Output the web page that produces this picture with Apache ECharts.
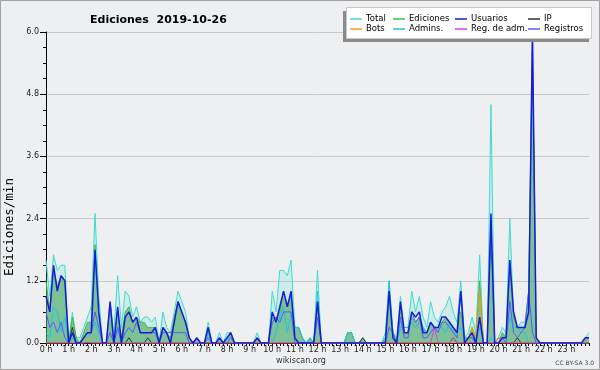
<!DOCTYPE html>
<html>
<head>
<meta charset="utf-8">
<script src="https://cdn.jsdelivr.net/npm/echarts@6/dist/echarts.min.js"></script>
<style>
  html, body { margin: 0; padding: 0; background: #eeeff1; }
  #chart { width: 600px; height: 370px; }
</style>
</head>
<body>
<div id="chart"></div>
<script>
// etiquetas de hora (cada 6 intervalos de 10 min)
var hourLabels = ['0 h','1 h','2 h','3 h','4 h','5 h','6 h','7 h','8 h','9 h','10 h','11 h',
  '12 h','13 h','14 h','15 h','16 h','17 h','18 h','19 h','20 h','21 h','22 h','23 h'];

// ediciones/min por tramo de 10 minutos, una fila por hora
var total = [
  1.6,0.9,1.7,1.4,1.5,1.5,
  0.0,0.6,0.1,0.1,0.3,0.5,
  0.7,2.5,0.9,0.0,0.0,0.8,
  0.2,1.3,0.3,1.0,0.9,0.5,
  0.7,0.4,0.5,0.5,0.4,0.5,
  0.0,0.6,0.3,0.2,0.6,1.0,
  0.8,0.6,0.1,0.0,0.1,0.0,
  0.0,0.4,0.0,0.0,0.2,0.0,
  0.2,0.2,0.0,0.0,0.0,0.0,
  0.0,0.0,0.2,0.0,0.0,0.0,
  1.0,0.6,1.4,1.4,1.3,1.6,
  0.3,0.3,0.1,0.0,0.1,0.0,
  1.4,0.0,0.0,0.0,0.0,0.0,
  0.0,0.0,0.2,0.2,0.0,0.0,
  0.1,0.0,0.0,0.0,0.0,0.0,
  0.2,1.2,0.2,0.1,0.9,0.3,
  0.3,1.0,0.6,0.9,0.5,0.3,
  0.8,0.5,0.4,0.6,0.7,0.9,
  0.6,0.4,1.2,0.1,0.2,0.5,
  0.2,1.7,0.0,0.0,4.6,0.0,
  0.1,0.3,0.2,2.4,0.5,0.3,
  0.4,0.4,1.0,6.0,0.1,0.0,
  0.0,0.0,0.0,0.0,0.0,0.0,
  0.0,0.0,0.0,0.0,0.0,0.1,
  0.2
];
var ediciones = [
  1.2,0.6,1.4,1.1,1.3,1.2,
  0.0,0.5,0.1,0.0,0.2,0.4,
  0.4,1.9,0.5,0.0,0.0,0.7,
  0.0,0.6,0.1,0.6,0.7,0.4,
  0.5,0.4,0.4,0.3,0.3,0.3,
  0.0,0.3,0.2,0.1,0.5,0.8,
  0.6,0.4,0.1,0.0,0.1,0.0,
  0.0,0.3,0.0,0.0,0.1,0.0,
  0.1,0.2,0.0,0.0,0.0,0.0,
  0.0,0.0,0.1,0.0,0.0,0.0,
  0.5,0.4,0.6,1.0,0.7,0.9,
  0.3,0.3,0.1,0.0,0.1,0.0,
  0.7,0.0,0.0,0.0,0.0,0.0,
  0.0,0.0,0.2,0.2,0.0,0.0,
  0.1,0.0,0.0,0.0,0.0,0.0,
  0.1,1.0,0.2,0.0,0.7,0.2,
  0.2,0.5,0.4,0.5,0.3,0.2,
  0.4,0.3,0.3,0.4,0.5,0.4,
  0.3,0.2,0.6,0.1,0.1,0.3,
  0.1,1.2,0.0,0.0,2.0,0.0,
  0.0,0.2,0.1,1.5,0.5,0.3,
  0.3,0.3,1.0,5.6,0.1,0.0,
  0.0,0.0,0.0,0.0,0.0,0.0,
  0.0,0.0,0.0,0.0,0.0,0.1,
  0.1
];
var usuarios = [
  0.9,0.6,1.5,1.0,1.3,1.2,
  0.0,0.2,0.0,0.0,0.1,0.2,
  0.2,1.8,0.6,0.0,0.0,0.8,
  0.0,0.7,0.0,0.5,0.6,0.4,
  0.5,0.2,0.2,0.2,0.2,0.3,
  0.0,0.3,0.2,0.0,0.4,0.8,
  0.6,0.4,0.1,0.0,0.1,0.0,
  0.0,0.3,0.0,0.0,0.1,0.0,
  0.1,0.2,0.0,0.0,0.0,0.0,
  0.0,0.0,0.1,0.0,0.0,0.0,
  0.6,0.4,0.7,1.0,0.7,1.0,
  0.1,0.0,0.0,0.0,0.0,0.0,
  0.8,0.0,0.0,0.0,0.0,0.0,
  0.0,0.0,0.0,0.0,0.0,0.0,
  0.0,0.0,0.0,0.0,0.0,0.0,
  0.0,1.0,0.1,0.0,0.8,0.2,
  0.2,0.6,0.5,0.6,0.2,0.2,
  0.4,0.3,0.3,0.5,0.5,0.4,
  0.3,0.2,1.0,0.0,0.1,0.2,
  0.0,0.5,0.0,0.0,2.5,0.0,
  0.0,0.1,0.1,1.6,0.6,0.3,
  0.3,0.3,0.6,6.0,0.1,0.0,
  0.0,0.0,0.0,0.0,0.0,0.0,
  0.0,0.0,0.0,0.0,0.0,0.1,
  0.1
];
var ip = [
  0,0,0,0,0,0,
  0,0.3,0,0,0,0,
  0,0,0,0,0,0,
  0,0,0,0,0.1,0,
  0,0,0,0.1,0,0,
  0,0,0,0,0,0,
  0,0,0,0,0.1,0,
  0,0,0,0,0,0,
  0,0,0,0,0,0,
  0,0,0,0,0,0,
  0,0,0,0,0,0,
  0,0,0,0,0,0,
  0,0,0,0,0,0,
  0,0,0,0,0,0,
  0.1,0,0,0,0,0,
  0,0,0,0,0,0,
  0,0,0,0,0,0,
  0,0,0,0,0,0,
  0.1,0,0,0,0,0,
  0,0,0,0,0,0,
  0.1,0,0,0,0,0.1,
  0,0,0,0,0,0,
  0,0,0,0,0,0,
  0,0,0,0,0,0,
  0
];
var bots = [
  0,0,0,0,0,0,
  0,0,0,0,0,0.1,
  0,0,0,0,0,0,
  0,0,0,0,0,0,
  0,0,0,0,0,0,
  0,0,0,0,0,0,
  0,0,0,0,0,0,
  0,0,0,0,0,0,
  0,0,0,0,0,0,
  0,0,0,0,0,0,
  0,0,0,0,0,0,
  0,0,0,0,0,0,
  0,0,0,0,0,0,
  0,0,0,0,0,0,
  0,0,0,0,0,0,
  0,0,0,0,0,0,
  0,0,0,0,0,0,
  0,0,0,0,0,0,
  0,0,0,0,0,0.3,
  0.1,1.0,0,0,0,0,
  0.1,0,0,0,0,0,
  0,0,0,0,0,0,
  0,0,0,0,0,0,
  0,0,0,0,0,0,
  0
];
var admins = [
  0.2,0.1,0.7,0.6,0.2,0.5,
  0.0,0.1,0.0,0.0,0.0,0.1,
  0.2,0.4,0.2,0.0,0.0,0.0,
  0.0,0.3,0.0,0.0,0.0,0.0,
  0,0,0,0,0,0,
  0,0,0,0,0,0,
  0,0,0,0,0,0,
  0.0,0.2,0.0,0.0,0.1,0.0,
  0.1,0.1,0.0,0.0,0.0,0.0,
  0.0,0.0,0.1,0.0,0.0,0.0,
  0.0,0.2,0.5,0.7,0.2,0.6,
  0.3,0.3,0.1,0.0,0.1,0.0,
  1.0,0.0,0.0,0.0,0.0,0.0,
  0.0,0.0,0.2,0.2,0.0,0.0,
  0,0,0,0,0,0,
  0.1,1.2,0.2,0.0,0.3,0.3,
  0.3,0.4,0.3,0.4,0.3,0.2,
  0.4,0.3,0.3,0.3,0.2,0.4,
  0.2,0.2,0.3,0.1,0.1,0.1,
  0.0,0.3,0.0,0.0,0.1,0.0,
  0.0,0.1,0.1,0.5,0.3,0.3,
  0.2,0.2,0.0,0.0,0.0,0.0,
  0,0,0,0,0,0,
  0,0,0,0,0,0,
  0
];
var regAdm = [
  0,0,0,0,0,0,
  0,0,0,0,0,0,
  0,0,0,0,0,0,
  0,0,0,0,0,0,
  0,0,0,0,0,0,
  0,0,0,0,0,0,
  0,0,0,0,0,0,
  0,0,0,0,0,0,
  0,0,0,0,0,0,
  0,0,0,0,0,0,
  0,0,0,0,0,0,
  0,0,0,0,0,0,
  0,0,0,0,0,0,
  0,0,0,0,0,0,
  0,0,0,0,0,0,
  0,0,0,0,0,0,
  0,0,0,0,0,0,
  0,0.3,0,0,0,0,
  0.1,0,0,0,0,0,
  0,0,0,0,0,0,
  0,0,0,0,0,0,
  0,0,0,0,0,0,
  0,0,0,0,0,0,
  0,0,0,0,0,0,
  0
];
var registros = [
  0.6,0.3,0.4,0.2,0.4,0.1,
  0.0,0.2,0.0,0.0,0.1,0.2,
  0.2,0.6,0.3,0.0,0.0,0.2,
  0.0,0.3,0.0,0.2,0.3,0.2,
  0.4,0.2,0.2,0.2,0.2,0.2,
  0.0,0.2,0.2,0.2,0.2,0.2,
  0.2,0.2,0.0,0.0,0.0,0.0,
  0.0,0.1,0.0,0.0,0.1,0.0,
  0.0,0.1,0.0,0.0,0.0,0.0,
  0.0,0.0,0.1,0.0,0.0,0.0,
  0.4,0.5,0.4,0.6,0.6,0.6,
  0,0,0,0,0,0,
  0.5,0,0,0,0,0,
  0,0,0,0,0,0,
  0,0,0,0,0,0,
  0.0,0.3,0.2,0.0,0.5,0.1,
  0.1,0.6,0.4,0.5,0.1,0.1,
  0.2,0.3,0.2,0.4,0.4,0.3,
  0.2,0.1,1.0,0.0,0.1,0.1,
  0.0,0.5,0.0,0.0,2.3,0.0,
  0.0,0.1,0.0,0.8,0.2,0.1,
  0.2,0.3,1.0,0.2,0.0,0.0,
  0,0,0,0,0,0,
  0,0,0,0,0,0.1,
  0.1
];

// tramos de 10 min: 0:00 ... 24:00
var slots = [];
for (var i = 0; i < total.length; i++) {
  var h = Math.floor(i / 6), m = (i % 6) * 10;
  slots.push(h + ':' + (m < 10 ? '0' : '') + m);
}

var font = 'DejaVu Sans';
var chart = echarts.init(document.getElementById('chart'), null, { renderer: 'canvas' });

function lineSerie(name, data, color, width, z, area) {
  var s = {
    name: name, type: 'line', data: data, symbol: 'none', z: z,
    color: color,
    lineStyle: { color: color, width: width },
    itemStyle: { color: color },
    emphasis: { disabled: true }
  };
  if (area) s.areaStyle = { color: area, opacity: 1 };
  return s;
}

function legendCol(left, names) {
  return {
    orient: 'vertical', left: left, top: 14, itemGap: 0, padding: 0,
    itemWidth: 12, itemHeight: 1.5, icon: 'rect',
    textStyle: { fontFamily: font, fontSize: 8.5, color: '#000', lineHeight: 10, padding: [0, 0, 0, -1] },
    data: names, z: 20
  };
}

var option = {
  backgroundColor: '#eeeff1',
  animation: false,
  title: {
    text: 'Ediciones  2019-10-26', left: 85, top: 10,
    textStyle: { fontFamily: font, fontSize: 11, fontWeight: 'bold', color: '#000' }
  },
  legend: [
    legendCol(350, ['Total', 'Bots']),
    legendCol(393, ['Ediciones', 'Admins.']),
    legendCol(455, ['Usuarios', 'Reg. de adm.']),
    legendCol(528, ['IP', 'Registros'])
  ],
  grid: { left: 46, right: 11, top: 32, bottom: 27 },
  xAxis: {
    type: 'category', data: slots, boundaryGap: false,
    axisLine: { lineStyle: { color: '#000', width: 1 } },
    axisTick: { interval: 0, length: 3, lineStyle: { color: '#000' } },
    axisLabel: {
      interval: function (idx) { return idx % 6 === 0 && idx < 144; },
      formatter: function (v, idx) { return hourLabels[idx / 6]; },
      fontFamily: font, fontSize: 8, color: '#222', margin: 3
    },
    splitLine: { show: false }
  },
  yAxis: {
    type: 'value', min: 0, max: 6, interval: 1.2,
    axisLine: { show: true, lineStyle: { color: '#000' } },
    axisTick: { show: true, length: 6, lineStyle: { color: '#000' } },
    minorTick: { show: true, splitNumber: 4, length: 3, lineStyle: { color: '#000' } },
    axisLabel: {
      formatter: function (v) { return v.toFixed(1); },
      fontFamily: font, fontSize: 8, color: '#222', margin: 7
    },
    splitLine: { show: true, lineStyle: { color: '#c8c8c8', width: 1 } }
  },
  graphic: [
    { type: 'rect', z: 100, silent: true, shape: { x: 0.5, y: 0.5, width: 599, height: 369 },
      style: { fill: 'none', stroke: '#a0a0a0', lineWidth: 1 } },
    { type: 'rect', z: 10, silent: true, shape: { x: 343, y: 11, width: 246, height: 31 },
      style: { fill: '#8a8a8a' } },
    { type: 'rect', z: 11, silent: true, shape: { x: 346.5, y: 7.5, width: 245, height: 31 },
      style: { fill: '#ffffff', stroke: '#c8c8c8', lineWidth: 1 } },
    { type: 'text', silent: true, x: 10, y: 227, rotation: Math.PI / 2,
      style: { text: 'Ediciones/min', font: '12.5px "DejaVu Sans Mono"', fill: '#000',
        textAlign: 'center', textVerticalAlign: 'middle' } },
    { type: 'text', silent: true, x: 301, y: 361,
      style: { text: 'wikiscan.org', font: '8px "DejaVu Sans"', fill: '#333',
        textAlign: 'center', textVerticalAlign: 'middle' } },
    { type: 'text', silent: true, x: 594, y: 363,
      style: { text: 'CC BY-SA 3.0', font: '6px "DejaVu Sans"', fill: '#444',
        textAlign: 'right', textVerticalAlign: 'middle' } }
  ],
  series: [
    lineSerie('Total', total, '#3fdccc', 1, 2, 'rgba(64,224,208,0.2)'),
    lineSerie('Ediciones', ediciones, '#4cb44c', 1, 3, 'rgba(60,160,80,0.55)'),
    lineSerie('Admins.', admins, '#1ec4e4', 1, 4),
    lineSerie('IP', ip, '#333333', 1, 5),
    lineSerie('Bots', bots, '#ff9a10', 1, 5),
    lineSerie('Reg. de adm.', regAdm, '#e03ce0', 1, 5),
    lineSerie('Registros', registros, '#5a5aff', 1, 6),
    lineSerie('Usuarios', usuarios, '#1a1ad8', 1.5, 7)
  ]
};

chart.setOption(option);
</script>
</body>
</html>
